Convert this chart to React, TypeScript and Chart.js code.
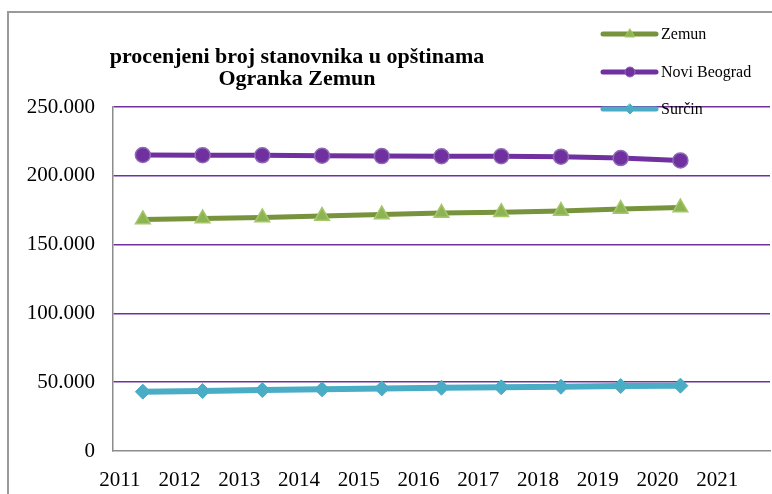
import React, { useEffect, useRef } from "react";
import { Chart, registerables } from "chart.js";

Chart.register(...registerables);

const years = ["2011", "2012", "2013", "2014", "2015", "2016", "2017", "2018", "2019", "2020", "2021"];
const zemun = [168300, 169000, 169700, 170700, 171800, 172900, 173600, 174400, 175800, 176900];
const noviBeograd = [215100, 215000, 214900, 214600, 214300, 214200, 214200, 213900, 212900, 211200];
const surcin = [43100, 43600, 44300, 44800, 45500, 46000, 46300, 46700, 47200, 47500];
const titleLines = ["procenjeni broj stanovnika u opštinama", "Ogranka Zemun"];
const seriesNames = ["Zemun", "Novi Beograd", "Surčin"];

const SERIF = '"Liberation Serif", "Times New Roman", serif';

function fmt(v: number): string {
  const s = Math.round(v).toString();
  return s.replace(/\B(?=(\d{3})+(?!\d))/g, ".");
}

const framePlugin = {
  id: "frame",
  beforeDraw(chart: any) {
    const ctx = chart.ctx;
    ctx.save();
    ctx.fillStyle = "#ffffff";
    ctx.fillRect(0, 0, chart.width, chart.height);
    ctx.strokeStyle = "#9a9a9a";
    ctx.lineWidth = 2;
    ctx.beginPath();
    ctx.moveTo(chart.width + 2, 12);
    ctx.lineTo(8, 12);
    ctx.lineTo(8, chart.height + 2);
    ctx.stroke();
    ctx.restore();
  },
};

function drawMarker(ctx: CanvasRenderingContext2D, style: string, x: number, y: number, r: number) {
  ctx.beginPath();
  if (style === "triangle") {
    ctx.moveTo(x, y - r);
    ctx.lineTo(x + r * 0.95, y + r * 0.6);
    ctx.lineTo(x - r * 0.95, y + r * 0.6);
    ctx.closePath();
  } else if (style === "circle") {
    ctx.arc(x, y, r, 0, Math.PI * 2);
  } else {
    ctx.moveTo(x, y - r);
    ctx.lineTo(x + r, y);
    ctx.lineTo(x, y + r);
    ctx.lineTo(x - r, y);
    ctx.closePath();
  }
  ctx.fill();
  ctx.stroke();
}

const overlayPlugin = {
  id: "overlay",
  afterDraw(chart: any) {
    const ctx = chart.ctx;
    const area = chart.chartArea;
    ctx.save();
    // title
    ctx.fillStyle = "#000";
    ctx.font = `bold 22px ${SERIF}`;
    ctx.textAlign = "center";
    ctx.textBaseline = "alphabetic";
    const cx = area.left + 184;
    ctx.fillText(titleLines[0], cx, 63);
    ctx.fillText(titleLines[1], cx, 85);

    // legend
    const rows = [34, 72, 109];
    chart.data.datasets.forEach((ds: any, i: number) => {
      const y = rows[i];
      ctx.lineCap = "round";
      ctx.strokeStyle = ds.borderColor;
      ctx.lineWidth = 5;
      ctx.beginPath();
      ctx.moveTo(603, y);
      ctx.lineTo(656, y);
      ctx.stroke();
      ctx.fillStyle = ds.pointBackgroundColor;
      ctx.strokeStyle = ds.pointBorderColor;
      ctx.lineWidth = 1;
      drawMarker(ctx, ds.pointStyle, 630, y, 5);
      ctx.fillStyle = "#000";
      ctx.font = `16px ${SERIF}`;
      ctx.textAlign = "left";
      ctx.textBaseline = "middle";
      ctx.fillText(seriesNames[i], 661, y + 1);
    });
    ctx.restore();
  },
};

export default function App() {
  const ref = useRef<HTMLCanvasElement | null>(null);
  useEffect(() => {
    document.body.style.margin = "0";
    const canvas = ref.current;
    if (!canvas) return;
    const chart = new Chart(canvas, {
      type: "line",
      data: {
        labels: years,
        datasets: [
          {
            label: seriesNames[0],
            data: zemun,
            borderColor: "#77933C",
            borderWidth: 5,
            pointStyle: "triangle",
            pointRadius: 8.5,
            pointBackgroundColor: "#8DB452",
            pointBorderColor: "#A6C66C",
            pointBorderWidth: 1.5,
            tension: 0,
          },
          {
            label: seriesNames[1],
            data: noviBeograd,
            borderColor: "#7030A0",
            borderWidth: 5,
            pointStyle: "circle",
            pointRadius: 7.5,
            pointBackgroundColor: "#7030A0",
            pointBorderColor: "#8D6AB3",
            pointBorderWidth: 1.5,
            tension: 0,
          },
          {
            label: seriesNames[2],
            data: surcin,
            borderColor: "#4BACC6",
            borderWidth: 6,
            pointStyle: "rectRot",
            pointRadius: 7.5,
            pointBackgroundColor: "#4BACC6",
            pointBorderColor: "#4BACC6",
            pointBorderWidth: 1,
            tension: 0,
          },
        ],
      },
      options: {
        responsive: false,
        animation: false,
        devicePixelRatio: 1,
        layout: { autoPadding: false, padding: { top: 107, right: 2, left: 0, bottom: 0 } },
        plugins: {
          legend: { display: false },
          title: { display: false },
          tooltip: { enabled: false },
        },
        scales: {
          x: {
            type: "category",
            offset: true,
            grid: {
              display: true,
              drawOnChartArea: false,
              drawTicks: true,
              tickLength: 17,
              color: "rgba(0,0,0,0)",
            },
            border: { display: true, color: "#8c8c8c", width: 1.5 },
            ticks: {
              color: "#000",
              font: { family: SERIF, size: 21 },
              padding: 0,
              labelOffset: -23,
              maxRotation: 0,
              autoSkip: false,
            },
            afterFit: (scale: any) => {
              scale.height = 43;
            },
          },
          y: {
            min: 0,
            max: 250000,
            grid: {
              drawTicks: false,
              lineWidth: 1.5,
              color: (c: any) => (c.tick && c.tick.value === 0 ? "rgba(0,0,0,0)" : "#7030A0"),
            },
            border: { display: true, color: "#8c8c8c", width: 1.5 },
            ticks: {
              stepSize: 50000,
              color: "#000",
              font: { family: SERIF, size: 21 },
              padding: 18,
              callback: (v: any) => fmt(Number(v)),
            },
            afterFit: (scale: any) => {
              scale.width = 113;
            },
          },
        },
      },
      plugins: [framePlugin, overlayPlugin],
    });
    return () => chart.destroy();
  }, []);
  return (
    <canvas
      ref={ref}
      width={772}
      height={494}
      style={{ display: "block", position: "absolute", left: 0, top: 0, width: 772, height: 494 }}
    />
  );
}
